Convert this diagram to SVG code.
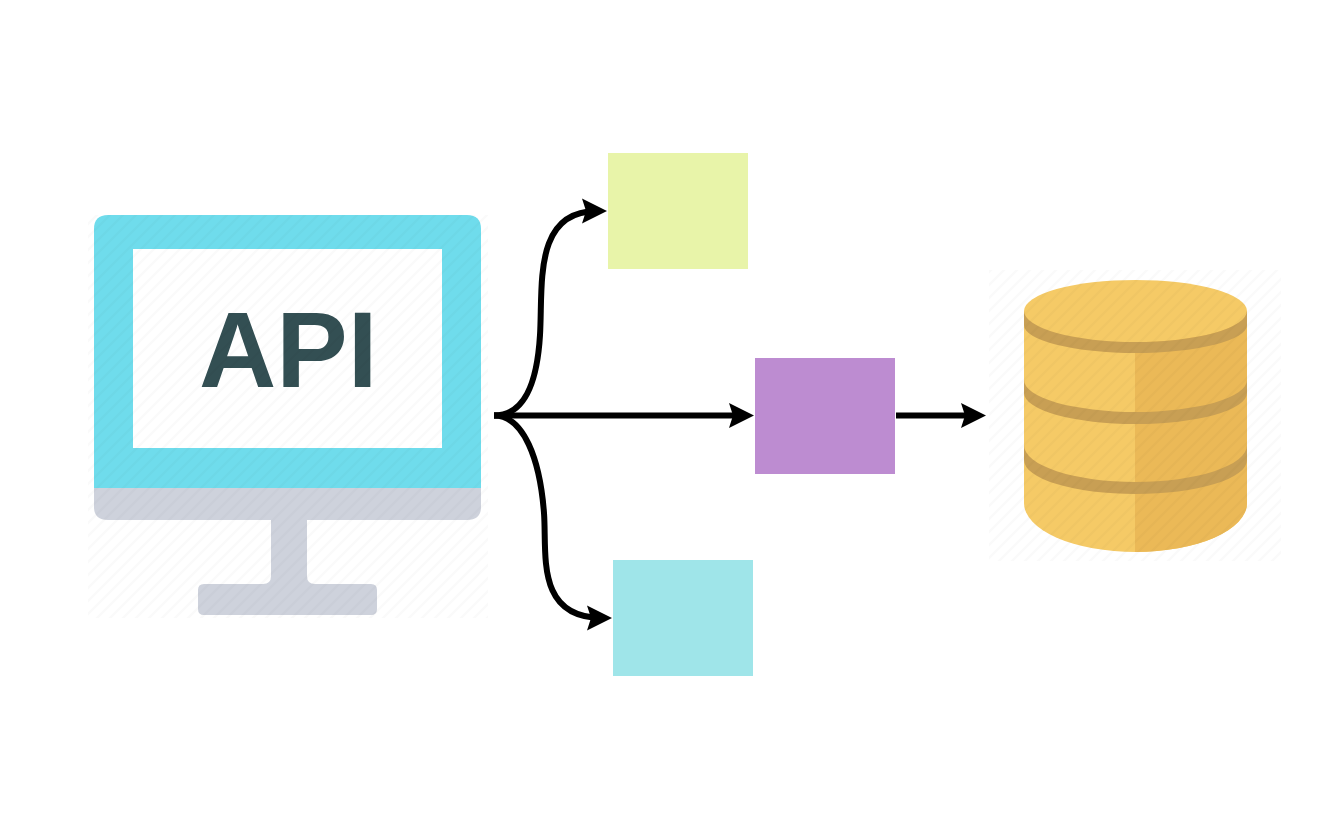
<svg xmlns="http://www.w3.org/2000/svg" width="1336" height="826" viewBox="0 0 1336 826">
<style>
.conn{fill:none;stroke:#000;stroke-width:6}
.gray{fill:#ced2dc}
.band{fill:#c89f54}
</style>
<defs>
<marker id="arrow" markerUnits="userSpaceOnUse" markerWidth="26" markerHeight="26" refX="15" refY="13" orient="auto">
<path d="M0 0.500L25 13L0 25.500L4 13Z" fill="#000"/>
</marker>
<pattern id="hatch" patternUnits="userSpaceOnUse" width="13" height="13">
<path d="M-2 15L15 -2M-2 2L2 -2M11 15L15 11" stroke="#000" stroke-opacity="0.02" stroke-width="2"/>
</pattern>
</defs>
<rect width="1336" height="826" fill="#fff"/>
<g id="api-monitor">
<path d="M94 488V229Q94 215 108 215H467Q481 215 481 229V488Z" fill="#6fdcec"/>
<path class="gray" d="M94 488H481V507Q481 520 467 520H108Q94 520 94 507Z"/>
<path class="gray" d="M271 520H307V576Q307 584 315 584H371Q377 584 377 590V609Q377 615 371 615H204Q198 615 198 609V590Q198 584 204 584H263Q271 584 271 576Z"/>
<rect x="133" y="249" width="309" height="199" fill="#fff"/>
<text x="199" y="387" font-family="'Liberation Sans',Arial,sans-serif" font-weight="bold" font-size="107" fill="#334f53">API</text>
<rect x="88" y="215" width="400" height="403" fill="url(#hatch)"/>
</g>
<g id="box-green"><rect x="608" y="153" width="140" height="116" fill="#e8f4a9"/></g>
<g id="box-purple"><rect x="755" y="358" width="140" height="116" fill="#bd8cd1"/></g>
<g id="box-cyan"><rect x="613" y="560" width="140" height="116" fill="#9fe5e9"/></g>
<g id="database">
<path d="M1024 311A111.500 31 0 0 1 1247 311V503A111.500 49 0 0 1 1024 503Z" fill="#f5ca66"/>
<path d="M1135 342A111.500 31 0 0 0 1247 311V503A111.500 49 0 0 1 1135 552Z" fill="#ebb957"/>
<path class="band" d="M1024 311A111.500 31 0 0 0 1247 311V325A111.500 28 0 0 1 1024 325Z"/>
<path class="band" d="M1024 380A111.500 32 0 0 0 1247 380V393A111.500 31 0 0 1 1024 393Z"/>
<path class="band" d="M1024 445A111.500 37 0 0 0 1247 445V460A111.500 34 0 0 1 1024 460Z"/>
<rect x="989" y="270" width="292" height="291" fill="url(#hatch)"/>
</g>
<g id="connectors">
<path class="conn" marker-end="url(#arrow)" d="M494 415.500C524 415.500 537 385 540 335C543 285 533 211 597 211"/>
<path class="conn" marker-end="url(#arrow)" d="M494 415.500H744"/>
<path class="conn" marker-end="url(#arrow)" d="M494 415.500C524 415.500 540 460 544 513C547 553 535 618 602 618"/>
<path class="conn" marker-end="url(#arrow)" d="M896 415.500H976"/>
</g>
</svg>
